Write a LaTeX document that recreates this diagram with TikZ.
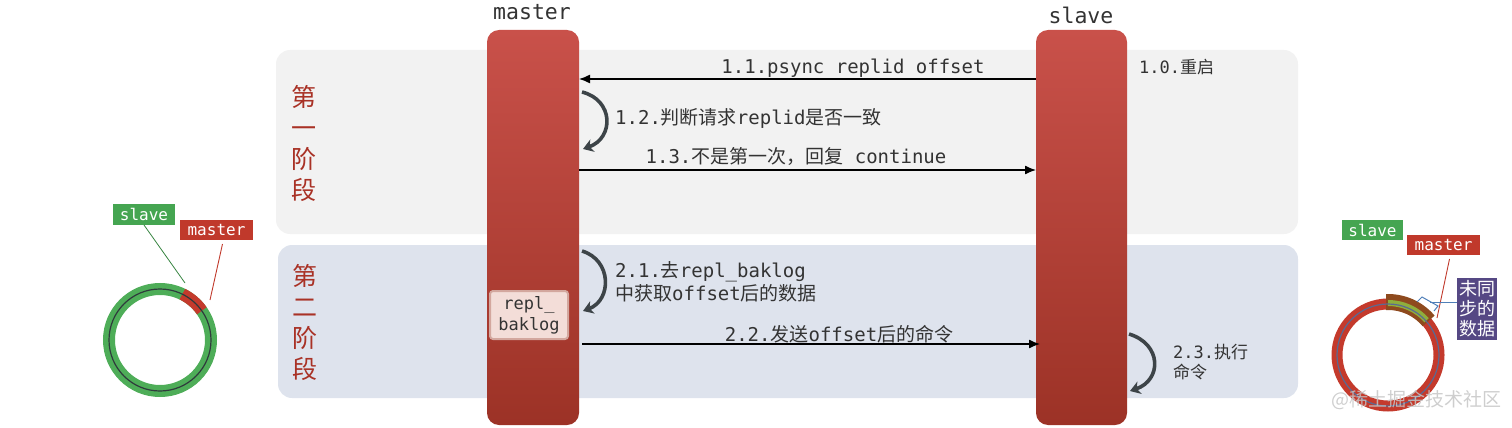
\documentclass[tikz,border=0pt]{standalone}
\usepackage{fontspec}
\setmainfont{DejaVu Sans}
\newfontfamily\monof{DejaVu Sans Mono}
\newfontfamily\cjkf{Noto Sans CJK SC}
\usetikzlibrary{arrows.meta}
\definecolor{panelA}{HTML}{F2F2F2}
\definecolor{panelB}{HTML}{DEE3ED}
\definecolor{barTop}{HTML}{C9514A}
\definecolor{barBot}{HTML}{9C3226}
\definecolor{stageRed}{HTML}{A93226}
\definecolor{txt}{HTML}{333333}
\definecolor{curv}{HTML}{3D4448}
\definecolor{ringGreen}{HTML}{4EAD58}
\definecolor{tagGreen}{HTML}{45A551}
\definecolor{tagRed}{HTML}{C0392B}
\definecolor{ringRed}{HTML}{C43A2C}
\definecolor{segBrown}{HTML}{8E4A1E}
\definecolor{segGreen}{HTML}{8FAE3C}
\definecolor{tagPurple}{HTML}{554884}
\definecolor{bracketBlue}{HTML}{4F7FB8}
\definecolor{ringLine}{HTML}{2F3B3C}
\definecolor{ringLineB}{HTML}{5A6A92}
\definecolor{logFill}{HTML}{F3DDD8}
\definecolor{logEdge}{HTML}{D3A79E}
\begin{document}
\begin{tikzpicture}[x=1pt,y=-1pt,
  phasebox/.style={draw=none,rounded corners=14pt,inner sep=0pt,outer sep=0pt},
  bar/.style={draw=none,rounded corners=12pt,top color=barTop,bottom color=barBot,
    minimum height=395pt,inner sep=0pt,outer sep=0pt},
  head/.style={font=\monof\fontsize{21.5}{24}\selectfont,text=txt,inner sep=0pt},
  lbl/.style={font=\monof\fontsize{19}{23}\selectfont,text=txt,inner sep=0pt},
  slbl/.style={font=\monof\fontsize{17}{20}\selectfont,text=txt,inner sep=0pt},
  stage/.style={font=\cjkf\fontsize{25}{31}\selectfont,text=stageRed,align=center,inner sep=0pt},
  msg/.style={draw=black,line width=1.3pt,-{Latex[length=11pt,width=9pt]}},
  curarrow/.style={draw=curv,line width=3.6pt,-{Stealth[length=10pt,width=13pt,inset=3pt]}},
  tag/.style={font=\monof\fontsize{16}{18}\selectfont,text=white,inner sep=0pt,outer sep=0pt}
]
\useasboundingbox (0,0) rectangle (1512,428);

% phase panels
\node[phasebox,fill=panelA,minimum width=1022pt,minimum height=184pt] (ph1) at (787,142) {};
\node[phasebox,fill=panelB,minimum width=1020pt,minimum height=153pt] (ph2) at (788,321.5) {};

\node[stage] (st1) at (304,143) {第\\一\\阶\\段};
\node[stage] (st2) at (305,322) {第\\二\\阶\\段};

% bars
\node[bar,minimum width=92pt] (master) at (533,227.5) {};
\node[bar,minimum width=91pt] (slave) at (1081.5,227.5) {};
\node[head] (mlabel) at (532,12) {master};
\node[head] (slabel) at (1081,15) {slave};

% helper coordinates
\coordinate (y11) at (0,79);
\coordinate (y13) at (0,170);
\coordinate (y22) at (0,344);
\coordinate (x22) at (582,0);

% 1.0
\node[slbl,anchor=west] (l10) at (1139,67) {1.0.{\cjkf 重启}};

% 1.1
\draw[msg] (slave.west |- y11) -- (master.east |- y11);
\node[lbl] (l11) at (853,68) {1.1.psync replid offset};

% 1.2
\coordinate (c12a) at (582,92);
\coordinate (c12b) at (583,149);
\draw[curarrow] (c12a) .. controls (614,100) and (614,138) .. (c12b);
\node[lbl,anchor=west] (l12) at (615,118) {1.2.{\cjkf 判断请求}replid{\cjkf 是否一致}};

% 1.3
\draw[msg] (master.east |- y13) -- (slave.west |- y13);
\node[lbl] (l13) at (796,156) {1.3.{\cjkf 不是第一次，回复} continue};

% 2.1
\coordinate (c21a) at (582,251);
\coordinate (c21b) at (583,311);
\draw[curarrow] (c21a) .. controls (612,260) and (612,300) .. (c21b);
\node[lbl,anchor=west,align=left] (l21) at (615,281.5) {2.1.{\cjkf 去}repl\_baklog\\{\cjkf 中获取}offset{\cjkf 后的数据}};

% repl_baklog
\node[draw=logEdge,line width=2pt,fill=logFill,rounded corners=3pt,minimum width=78pt,minimum height=48pt,
  font=\monof\fontsize{17}{21}\selectfont,text=txt,align=center,inner sep=0pt] (log) at (529,315) {repl\_\\baklog};

% 2.2
\draw[msg] (x22 |- y22) -- ([xshift=4pt]slave.west |- y22);
\node[lbl] (l22) at (839,334) {2.2.{\cjkf 发送}offset{\cjkf 后的命令}};

% 2.3
\coordinate (c23a) at (1129,334);
\coordinate (c23b) at (1130,391);
\draw[curarrow] (c23a) .. controls (1162,344) and (1162,380) .. (c23b);
\node[slbl,anchor=west,align=left] (l23) at (1173,362) {2.3.{\cjkf 执行}\\{\cjkf 命令}};

% left ring
\coordinate (lc) at (160,340);
\draw[ringGreen,line width=12pt] (lc) circle[radius=51pt];
\draw[ringRed,line width=12pt] (lc) ++(35:51pt) arc[start angle=35,end angle=64,radius=51pt];
\draw[ringLine,line width=1.2pt] (lc) circle[radius=51pt];
\node[tag,fill=tagGreen,minimum width=62pt,minimum height=21pt] (lslave) at (144,214.5) {slave};
\node[tag,fill=tagRed,minimum width=73pt,minimum height=20pt] (lmaster) at (216.5,230) {master};
\coordinate (lsEnd) at (185,283);
\coordinate (lmEnd) at (210,300);
\draw[tagGreen!80!black,line width=0.8pt] (lslave.south) -- (lsEnd);
\draw[tagRed,line width=0.9pt] (lmaster.south) ++(6,4) -- (lmEnd);

% right ring
\coordinate (rc) at (1388,355);
\draw[ringRed,line width=11pt] (rc) circle[radius=51pt];
\draw[segBrown,line width=16pt] (rc) ++(40:53pt) arc[start angle=40,end angle=92,radius=53pt];
\draw[segGreen,line width=6pt] (rc) ++(42:52pt) arc[start angle=42,end angle=90,radius=52pt];
\draw[ringLineB,line width=1.2pt] (rc) circle[radius=51pt];
\node[tag,fill=tagGreen,minimum width=61pt,minimum height=20pt] (rslave) at (1372.5,230) {slave};
\node[tag,fill=tagRed,minimum width=73pt,minimum height=20pt] (rmaster) at (1443.5,245) {master};
\node[tag,fill=tagPurple,minimum width=40pt,minimum height=62pt,align=center,
  font=\cjkf\fontsize{18}{20}\selectfont] (unsync) at (1477,309) {未同\\步的\\数据};
\coordinate (rmEnd) at (1437,318);
\draw[tagRed,line width=0.9pt] (rmaster.south) ++(6,4) -- (rmEnd);
\coordinate (brA) at (1417,302);
\coordinate (brB) at (1422,297);
\coordinate (brC) at (1438,306);
\coordinate (brD) at (1434,311);
\coordinate (brM) at (1430,302);
\draw[bracketBlue,line width=1pt] (brA) -- (brB) -- (brC) -- (brD);
\draw[bracketBlue,line width=1pt] (brM) -- (unsync.west |- brM);

% watermark
\node[font=\cjkf\fontsize{19}{22}\selectfont,text=gray!45,opacity=0.85,inner sep=0pt] (wm) at (1416,400) {@稀土掘金技术社区};
\end{tikzpicture}
\end{document}
